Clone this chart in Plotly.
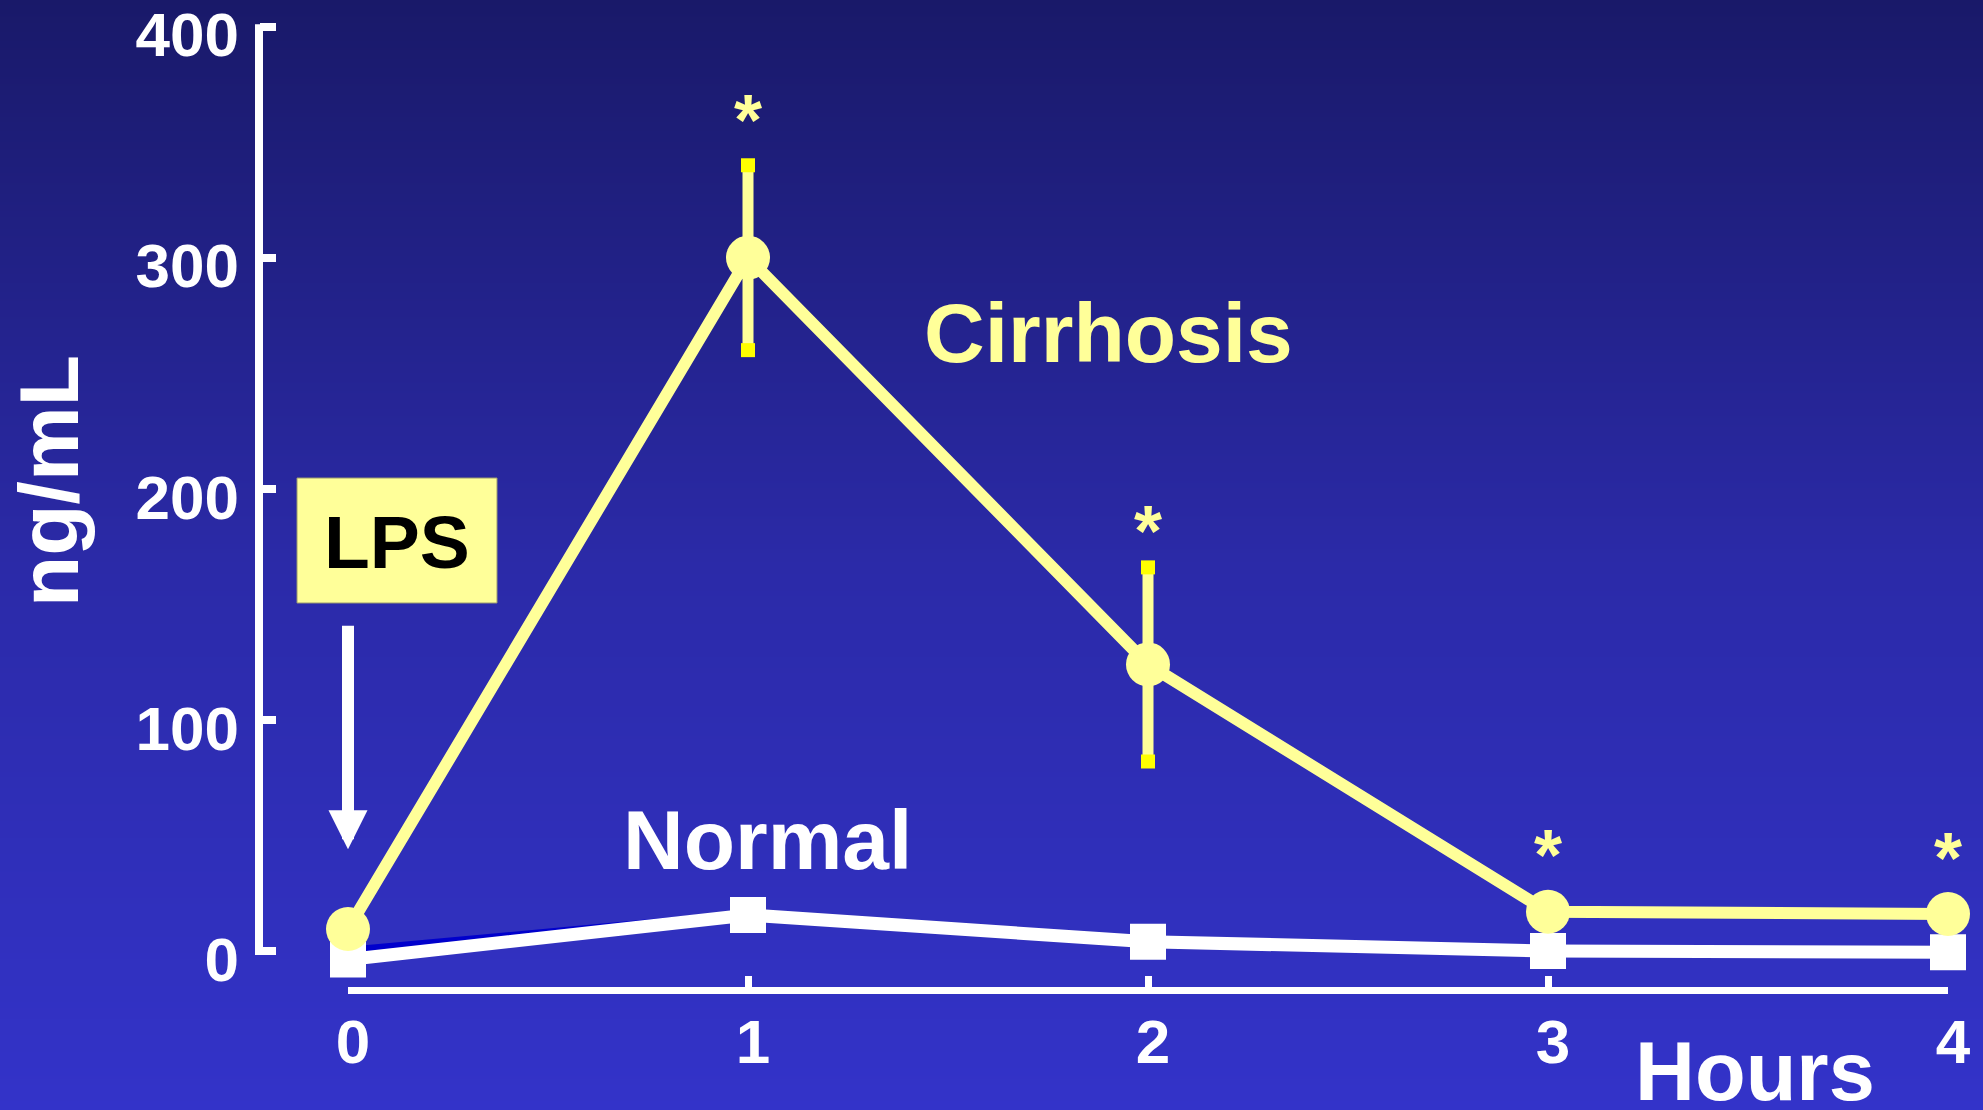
import base64
import struct
import zlib

import plotly.graph_objects as go

# ---- data -------------------------------------------------------------
hours = [0, 1, 2, 3, 4]
cirrhosis = [9.5, 300, 124, 17, 16]          # ng/mL
cirrhosis_sem = [0, 40, 42, 0, 0]
normal = [-3.7, 15.6, 4, 0, -0.5]            # ng/mL
star_hours = [1, 2, 3, 4]                    # significant time points
y_ticks = [0, 100, 200, 300, 400]
x_ticks = [0, 1, 2, 3, 4]
# dark sliver left along the first Normal segment
wedge_hours = [0, 1, 0]
wedge_vals = [1.8, 17.7, -3.5]

W, H = 1983, 1110
FONT = "Liberation Sans, Arial, Helvetica, sans-serif"
YELLOW = "#FFFF99"
CAP_YELLOW = "#FFFF00"

# vertical placement of the value axis (pixels from the top)
Y0_PX, Y400_PX = 951.0, 26.6
PX_PER_UNIT = (Y0_PX - Y400_PX) / 400
Y_LO, Y_HI = -20, 401


def gradient_png(stops, height, width=4):
    """Vertical gradient as a PNG data URI (stdlib only)."""
    raw = bytearray()
    for i in range(height):
        t = i / (height - 1)
        for (t0, c0), (t1, c1) in zip(stops, stops[1:]):
            if t0 <= t <= t1:
                f = (t - t0) / (t1 - t0) if t1 > t0 else 0
                rgb = [round(a + (b - a) * f) for a, b in zip(c0, c1)]
                break
        raw += b"\x00" + bytes(rgb) * width

    def chunk(tag, data):
        return (struct.pack(">I", len(data)) + tag + data
                + struct.pack(">I", zlib.crc32(tag + data) & 0xFFFFFFFF))

    png = (b"\x89PNG\r\n\x1a\n"
           + chunk(b"IHDR", struct.pack(">IIBBBBB", width, height, 8, 2, 0, 0, 0))
           + chunk(b"IDAT", zlib.compress(bytes(raw)))
           + chunk(b"IEND", b""))
    return "data:image/png;base64," + base64.b64encode(png).decode()


bg = gradient_png([(0.0, (25, 25, 105)), (0.51, (43, 42, 168)), (1.0, (51, 51, 201))], H)

fig = go.Figure()

fig.add_trace(go.Scatter(
    x=wedge_hours, y=wedge_vals, mode="lines", fill="toself",
    fillcolor="#0000CC", line=dict(width=0, color="#0000CC"),
    cliponaxis=False, hoverinfo="skip"))

fig.add_trace(go.Scatter(
    x=hours, y=normal, mode="lines+markers", name="Normal",
    line=dict(color="white", width=13),
    marker=dict(symbol="square", size=36, color="white"),
    cliponaxis=False))

fig.add_trace(go.Scatter(
    x=hours, y=cirrhosis, mode="lines+markers", name="Cirrhosis",
    line=dict(color=YELLOW, width=12),
    marker=dict(symbol="circle", size=44, color=YELLOW),
    error_y=dict(type="data", array=cirrhosis_sem, thickness=11, width=0, color=YELLOW),
    cliponaxis=False))

# bright caps at the ends of the error bars
cap_x, cap_y = [], []
for h, v, e in zip(hours, cirrhosis, cirrhosis_sem):
    if e:
        cap_x += [h, h]
        cap_y += [v + e, v - e]
fig.add_trace(go.Scatter(
    x=cap_x, y=cap_y, mode="markers",
    marker=dict(symbol="square", size=14, color=CAP_YELLOW),
    cliponaxis=False, hoverinfo="skip"))

annotations = []
star_lift = [45, 36, 57, 56]
for h, lift in zip(star_hours, star_lift):
    i = hours.index(h)
    annotations.append(dict(
        x=h, y=cirrhosis[i] + cirrhosis_sem[i], xref="x", yref="y",
        text="*", showarrow=False, yshift=lift, xanchor="center", yanchor="middle",
        font=dict(family=FONT, size=72, color=YELLOW, weight="bold")))


def label(x, y, text, size, color, ref="paper", angle=0):
    return dict(x=x, y=y, xref="x" if ref == "data" else "paper",
                yref="y" if ref == "data" else "paper", text=text,
                showarrow=False, xanchor="center", yanchor="middle", textangle=angle,
                font=dict(family=FONT, size=size, color=color, weight="bold"))


annotations += [
    label(1.9, 267.2, "Cirrhosis", 84, YELLOW, ref="data"),
    label(1.048, 48.0, "Normal", 84, "white", ref="data"),
    label(1755 / W, 1 - 1071 / H, "Hours", 83, "white"),
    label(49 / W, 1 - 481 / H, "ng/mL", 84, "white", angle=-90),
    label(397 / W, 1 - 542 / H, "LPS", 75, "black"),
    # LPS injection arrow pointing at time zero
    dict(x=0, y=44, xref="x", yref="y", text="", showarrow=True,
         ax=0, ay=-225, arrowhead=2, arrowsize=0.65, arrowwidth=12,
         arrowcolor="white"),
]

AXIS_X = 259 / W
shapes = [
    # LPS label box
    dict(type="rect", xref="paper", yref="paper",
         x0=297 / W, x1=497 / W, y0=1 - 603 / H, y1=1 - 478 / H,
         fillcolor=YELLOW, line=dict(color="#9a9a70", width=1), layer="above"),
    # value axis line spanning 0-400 only
    dict(type="line", xref="paper", yref="y", x0=AXIS_X, x1=AXIS_X,
         y0=y_ticks[0] - 4 / PX_PER_UNIT, y1=y_ticks[-1] + 4 / PX_PER_UNIT,
         line=dict(color="white", width=8), layer="above"),
]

tickfont = dict(family=FONT, size=62, color="white", weight="bold")

y_dom = [1 - (Y0_PX - Y_LO * PX_PER_UNIT) / H, 1 - (Y400_PX - (Y_HI - 400) * PX_PER_UNIT) / H]

fig.update_layout(
    width=W, height=H,
    margin=dict(l=0, r=0, t=0, b=0, pad=0),
    template="none",
    showlegend=False,
    paper_bgcolor="#2A2AA8",
    plot_bgcolor="rgba(0,0,0,0)",
    images=[dict(source=bg, xref="paper", yref="paper", x=0, y=1,
                 sizex=1, sizey=1, xanchor="left", yanchor="top",
                 sizing="stretch", layer="below")],
    annotations=annotations,
    shapes=shapes,
    xaxis=dict(range=[0, 4], domain=[348 / W, 1948 / W], anchor="free",
               position=1 - 990 / H, showline=True, linecolor="white", linewidth=7,
               ticks="inside", ticklen=11, tickwidth=7, tickcolor="white",
               tickmode="array", tickvals=x_ticks, tickfont=tickfont,
               ticklabelstandoff=-5, ticklabelshift=5, ticklabeloverflow="allow",
               showgrid=False, zeroline=False, automargin=False),
    yaxis=dict(range=[Y_LO, Y_HI], domain=y_dom, anchor="free",
               position=AXIS_X, showline=False,
               ticks="inside", ticklen=16, tickwidth=8, tickcolor="white",
               tickmode="array", tickvals=y_ticks, tickfont=tickfont,
               ticklabelstandoff=20, ticklabelshift=8, ticklabeloverflow="allow",
               showgrid=False, zeroline=False, automargin=False),
)

fig.write_html("out.html", include_plotlyjs=True, config={"displayModeBar": False})
